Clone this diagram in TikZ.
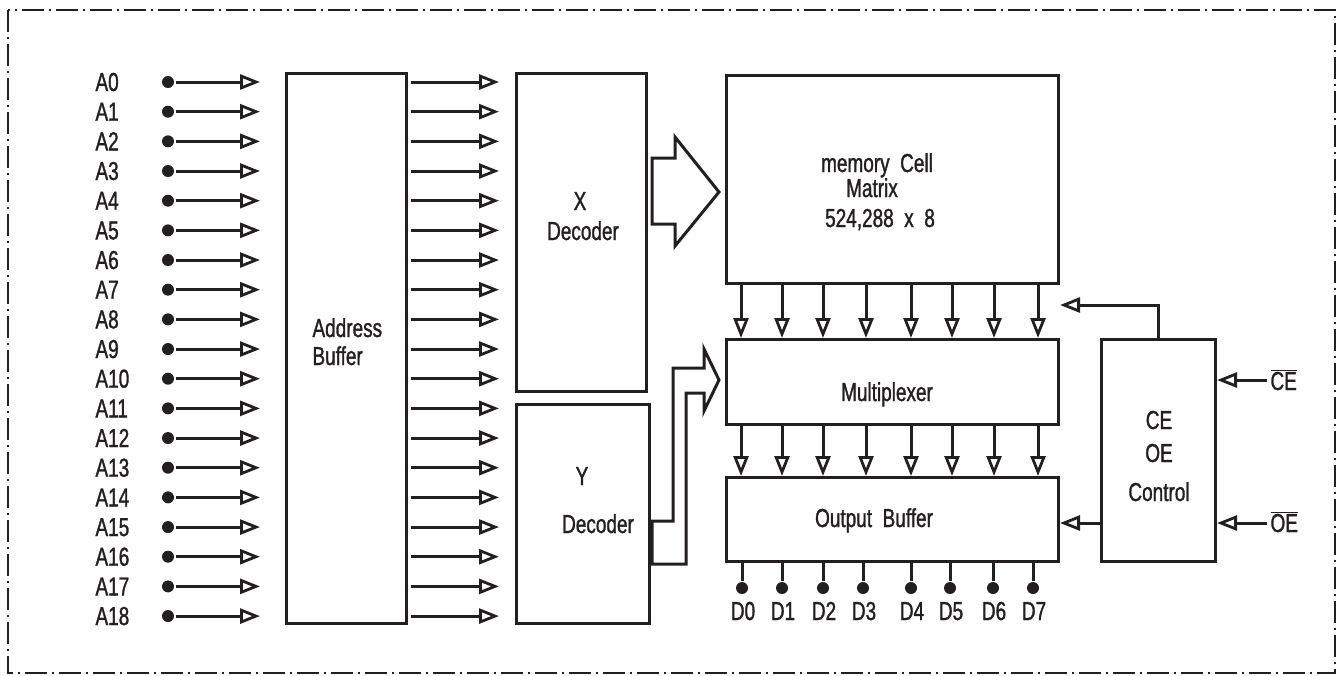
\documentclass[tikz,border=0pt]{standalone}
\usepackage{fontspec}
\setmainfont[FakeStretch=0.73,FakeBold=1.2]{Liberation Sans}
\usetikzlibrary{arrows.meta}
\newcommand\negsig[1]{$\overline{\mbox{#1}}$}
\begin{document}
\begin{tikzpicture}[x=1pt,y=-1pt,line width=3pt,font=\fontsize{26}{31}\selectfont,
  blk/.style={draw=ink,line width=3pt,inner sep=0pt,anchor=north west},
  sig/.style={draw=ink,-{Triangle[open,length=20pt,width=15pt,line width=2.8pt]}},
  pin/.style={circle,fill=ink,inner sep=0pt,minimum size=12pt},
  txt/.style={text=ink,inner sep=0pt,anchor=base}]
\definecolor{ink}{HTML}{231F20}
\useasboundingbox (0,0) rectangle (1337,675);
\draw[ink,line width=2.4pt,dash pattern=on 22pt off 5pt on 2pt off 5pt] (8,10) rectangle (1335,673);
% blocks
\node[blk,minimum width=120,minimum height=550] (buf) at (285,72) {};
\node[blk,minimum width=130,minimum height=318] (xdec) at (515,72) {};
\node[blk,minimum width=133,minimum height=219] (ydec) at (515,403) {};
\node[blk,minimum width=332,minimum height=208] (mem) at (725,74) {};
\node[blk,minimum width=332,minimum height=85] (mux) at (725,338) {};
\node[blk,minimum width=332,minimum height=84] (obuf) at (725,476) {};
\node[blk,minimum width=114,minimum height=222] (ctrl) at (1100,338) {};
% block texts
\node[txt,anchor=base west] (buft) at (311,337) {Address};
\node[txt,anchor=base west] (buftb) at (311,365) {Buffer};
\node[txt] (xdect) at (580,210) {X};
\node[txt] (xdectb) at (583,240) {Decoder};
\node[txt] (ydect) at (582,485) {Y};
\node[txt] (ydectb) at (598,533) {Decoder};
\node[txt] (memt) at (877,172) {memory\ \ Cell};
\node[txt] (memtb) at (872,197) {Matrix};
\node[txt] (memtc) at (880,227) {524,288\ \ x\ \ 8};
\node[txt] (muxt) at (887,401) {Multiplexer};
\node[txt] (obuft) at (874,527) {Output\ \ Buffer};
\node[txt] (ctrlt) at (1159,429) {CE};
\node[txt] (ctrltb) at (1159,462) {OE};
\node[txt] (ctrltc) at (1159,501) {Control};
% address lines
\foreach \i in {0,...,18}{
  \pgfmathsetmacro\yy{82+29.67*\i}
  \node[txt,anchor=base west] (al\i) at (94,\yy+9) {A\i};
  \node[pin] (ad\i) at (168,\yy) {};
  \coordinate (ab\i) at (260,\yy);
  \coordinate (xo\i) at (499,\yy);
  \draw[sig] (ad\i) -- (ab\i);
  \draw[sig] ([xshift=3pt]buf.east |- ad\i) -- (xo\i);
}
% decoder buses
\draw[ink,line join=miter] (652,158) -- (675,158) -- (675,137) -- (719,192) -- (675,246) -- (675,224) -- (652,224) -- cycle;
\draw[ink,line join=miter] (652,564) -- (686,564) -- (686,393) -- (704,393) -- (704,411) -- (719,380) -- (704,349)
  -- (704,368) -- (673,368) -- (673,521) -- (652,521) -- cycle;
% data columns
\foreach \x [count=\k from 0] in {741,782,823,866,911,952,994,1038}{
  \coordinate (col\k) at (\x,300);
  \draw[sig] (mem.south -| col\k) -- (mux.north -| col\k);
  \draw[sig] (mux.south -| col\k) -- (obuf.north -| col\k);
}
\foreach \x [count=\k from 0] in {742,782,823,863,911,950,993,1033}{
  \node[pin] (d\k) at (\x,588) {};
  \draw[ink] (obuf.south -| d\k) -- (d\k);
  \node[txt] (dl\k) at (\x+1,620) {D\k};
}
% control
\coordinate (muxen) at (1060,305);
\coordinate (oben) at (1060,523);
\coordinate (cein) at (1267,380);
\coordinate (oein) at (1267,523);
\draw[sig] (ctrl.north) |- (muxen);
\draw[sig] (ctrl.west |- oben) -- (oben);
\draw[sig] (cein) -- (ctrl.east |- cein);
\draw[sig] (oein) -- (ctrl.east |- oein);
\node[txt,anchor=base west] (cebar) at (1269,390) {\negsig{CE}};
\node[txt,anchor=base west] (oebar) at (1269,532) {\negsig{OE}};
\end{tikzpicture}
\end{document}
